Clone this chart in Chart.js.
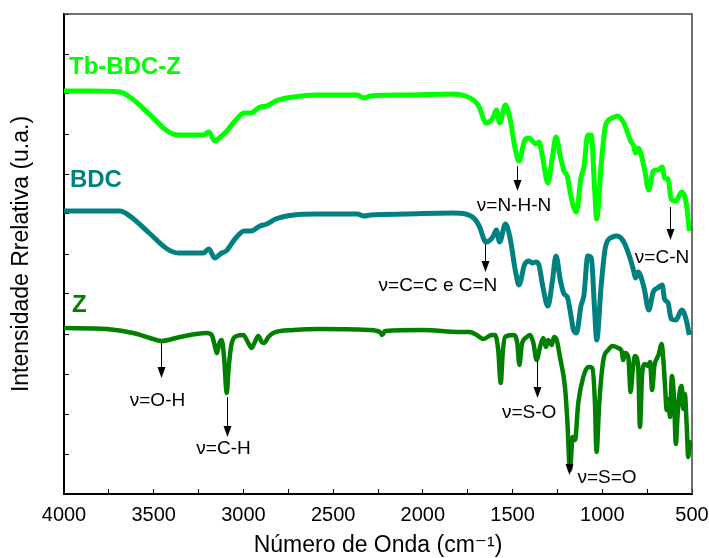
<!DOCTYPE html>
<html><head><meta charset="utf-8">
<script src="https://cdn.jsdelivr.net/npm/chart.js@4.4.0/dist/chart.umd.min.js"></script>
<style>html,body{margin:0;padding:0;background:#fff}#wrap{width:709px;height:558px;position:relative}</style>
</head><body><div id="wrap"><canvas id="c"></canvas></div>
<script>
// Wavenumbers (cm-1) shared by the Tb-BDC-Z and BDC traces
const wavenumbersTB = [4000,3853,3689,3626,3525,3425,3362,3223,3193,3160,3122,3097,3047,2996,2958,2908,2870,2820,2719,2593,2366,2329,2291,2089,1837,1762,1711,1686,1648,1610,1590,1572,1540,1515,1484,1464,1434,1409,1389,1371,1353,1333,1303,1278,1258,1233,1213,1195,1177,1162,1144,1119,1102,1081,1061,1044,1031,1006,981,943,918,880,842,825,815,800,767,741,716,691,666,653,633,616,590,557,532,515];
// Relative intensity (u.a., offset traces)
const tbBdcZ = [403,403,402,396,380,363,359,359,362,353,358,362,373,381,381,387,388,393,397,399,399,396,398,399,400,398,393,387,371,376,384,371,389,376,344,333,353,356,353,350,352,337,311,337,357,337,323,318,300,288,282,316,327,359,359,309,275,330,369,376,378,371,353,348,341,346,327,304,323,324,327,316,315,295,293,302,291,263];
const bdc = [283,283,283,277,261,245,241,241,245,236,241,243,255,263,263,268,270,275,279,280,280,278,279,280,281,280,275,268,252,257,264,252,270,257,223,209,229,233,231,232,229,209,188,213,238,213,200,197,181,165,161,188,199,238,236,188,154,209,248,257,258,252,234,223,216,222,206,184,202,206,209,195,191,175,174,184,174,159];
const wavenumbersZ = [4000,3762,3614,3521,3456,3354,3205,3177,3158,3149,3134,3121,3108,3093,3082,3065,3038,3001,2973,2954,2936,2917,2898,2885,2861,2834,2722,2573,2300,2240,2227,2210,2000,1793,1740,1700,1663,1616,1598,1580,1566,1555,1542,1496,1474,1462,1449,1421,1403,1384,1366,1347,1329,1314,1301,1282,1269,1254,1236,1208,1195,1180,1165,1152,1134,1106,1078,1054,1041,1032,1017,994,967,943,911,892,883,873,855,842,830,818,800,790,778,762,745,734,722,710,697,685,669,660,650,641,630,623,612,600,590,580,567,557,549,540,530,521,512,505];
const z = [166,165,161,156,153,157,161,159,147,141,151,154,137,101,127,151,158,159,151,146,152,158,152,151,157,161,164,165,164,162,159,163,164,162,162,159,155,159,159,144,111,141,157,159,151,129,149,157,159,151,134,147,156,147,154,149,157,154,137,107,74,24,57,54,91,117,127,126,91,42,91,134,144,148,146,143,134,141,137,102,125,138,128,67,120,130,128,132,104,128,135,140,150,135,107,84,95,77,118,95,50,80,104,108,85,100,70,37,52,45];
const xTickLabels = ['4000','3500','3000','2500','2000','1500','1000','500'];
const seriesNames = ['Tb-BDC-Z','BDC','Z'];
const seriesColors = ['#00FF00','#008080','#008000'];
const bandLabels = ['ν=O-H','ν=C-H','ν=C=C e C=N','ν=N-H-N','ν=C-N','ν=S-O','ν=S=O'];

const toPts = (xs, ys) => xs.map((x, i) => ({x, y: ys[i]}));
const FONT = "'Liberation Sans', Arial, 'DejaVu Sans', sans-serif";

// annotation placement (data coordinates: wavenumber, intensity)
const bandMarks = [
  {arrowX:3461, from:152, to:116, textX:3479, textY:93},
  {arrowX:3090, from:97,  to:57,  textX:3111, textY:45},
  {arrowX:1654, from:250, to:222, textX:1916, textY:208},
  {arrowX:1473, from:328, to:303, textX:1492, textY:288},
  {arrowX:623,  from:287, to:254, textX:667,  textY:236},
  {arrowX:1366, from:134, to:96,  textX:1408, textY:81},
  {arrowX:1184, from:54,  to:19,  textX:974,  textY:16}
];
const nameMarks = [{x:3972, y:427},{x:3967, y:314},{x:3955, y:189}];

const overlay = {
  id: 'overlay',
  afterDatasetsDraw(chart) {
    const {ctx, chartArea: a, scales: {x, y}} = chart;
    ctx.save();
    // frame top / right
    ctx.strokeStyle = '#444'; ctx.lineWidth = 1.5;
    ctx.beginPath();
    ctx.moveTo(a.left, a.top); ctx.lineTo(a.right, a.top); ctx.lineTo(a.right, a.bottom);
    ctx.stroke();
    // series names
    ctx.font = "bold 24px " + FONT;
    ctx.textAlign = 'left'; ctx.textBaseline = 'middle';
    nameMarks.forEach((m, i) => {
      ctx.fillStyle = seriesColors[i];
      ctx.fillText(seriesNames[i], x.getPixelForValue(m.x), y.getPixelForValue(m.y));
    });
    // band annotations
    ctx.fillStyle = '#000'; ctx.strokeStyle = '#000'; ctx.lineWidth = 1;
    ctx.font = "19px " + FONT; ctx.textAlign = 'center';
    bandMarks.forEach((m, i) => {
      const px = Math.round(x.getPixelForValue(m.arrowX)) + 0.5;
      const y1 = y.getPixelForValue(m.from), y2 = y.getPixelForValue(m.to);
      ctx.beginPath(); ctx.moveTo(px, y1); ctx.lineTo(px, y2 - 8); ctx.stroke();
      ctx.beginPath(); ctx.moveTo(px - 4, y2 - 11); ctx.lineTo(px + 4, y2 - 11); ctx.lineTo(px, y2); ctx.closePath(); ctx.fill();
      ctx.fillText(bandLabels[i], x.getPixelForValue(m.textX), y.getPixelForValue(m.textY));
    });
    ctx.restore();
  }
};

const ds = (i, pts, w) => ({
  label: seriesNames[i], data: pts, borderColor: seriesColors[i], backgroundColor: seriesColors[i],
  borderWidth: w, pointRadius: 0, cubicInterpolationMode: 'monotone', fill: false
});

new Chart(document.getElementById('c'), {
  type: 'line',
  data: { datasets: [ ds(0, toPts(wavenumbersTB, tbBdcZ), 5), ds(1, toPts(wavenumbersTB, bdc), 5), ds(2, toPts(wavenumbersZ, z), 4.5) ] },
  options: {
    responsive: true, maintainAspectRatio: false, animation: false,
    layout: { padding: { top: 14, right: 17, left: 0, bottom: 0 } },
    plugins: { legend: { display: false }, tooltip: { enabled: false } },
    scales: {
      x: {
        type: 'linear', reverse: true, min: 500, max: 4000,
        afterFit(s) { s.height = 64; s.paddingLeft = 0; s.paddingRight = 0; },
        border: { display: true, color: '#000', width: 2 },
        grid: { drawOnChartArea: false, drawTicks: true, tickLength: -5, color: '#000', lineWidth: 1 },
        ticks: { stepSize: 250, autoSkip: false, maxRotation: 0, padding: 14, color: '#000',
          font: { family: FONT, size: 20 },
          callback: (v) => xTickLabels.includes(String(v)) ? String(v) : '' },
        title: { display: true, text: 'Número de Onda (cm⁻¹)', color: '#000',
          font: { family: FONT, size: 23, lineHeight: 1.1 }, padding: { top: 0, bottom: 0 } }
      },
      y: {
        type: 'linear', min: 0, max: 480,
        afterFit(s) { s.width = 64; s.paddingTop = 0; s.paddingBottom = 0; },
        border: { display: true, color: '#000', width: 2 },
        grid: { drawOnChartArea: false, drawTicks: true, tickLength: -5, color: '#000', lineWidth: 1 },
        ticks: { stepSize: 40, display: false },
        title: { display: true, text: 'Intensidade Rrelativa (u.a.)', color: '#000',
          font: { family: FONT, size: 23, lineHeight: 1.2 }, padding: { top: 8, bottom: 0 } }
      }
    }
  },
  plugins: [overlay]
});
</script></body></html>
